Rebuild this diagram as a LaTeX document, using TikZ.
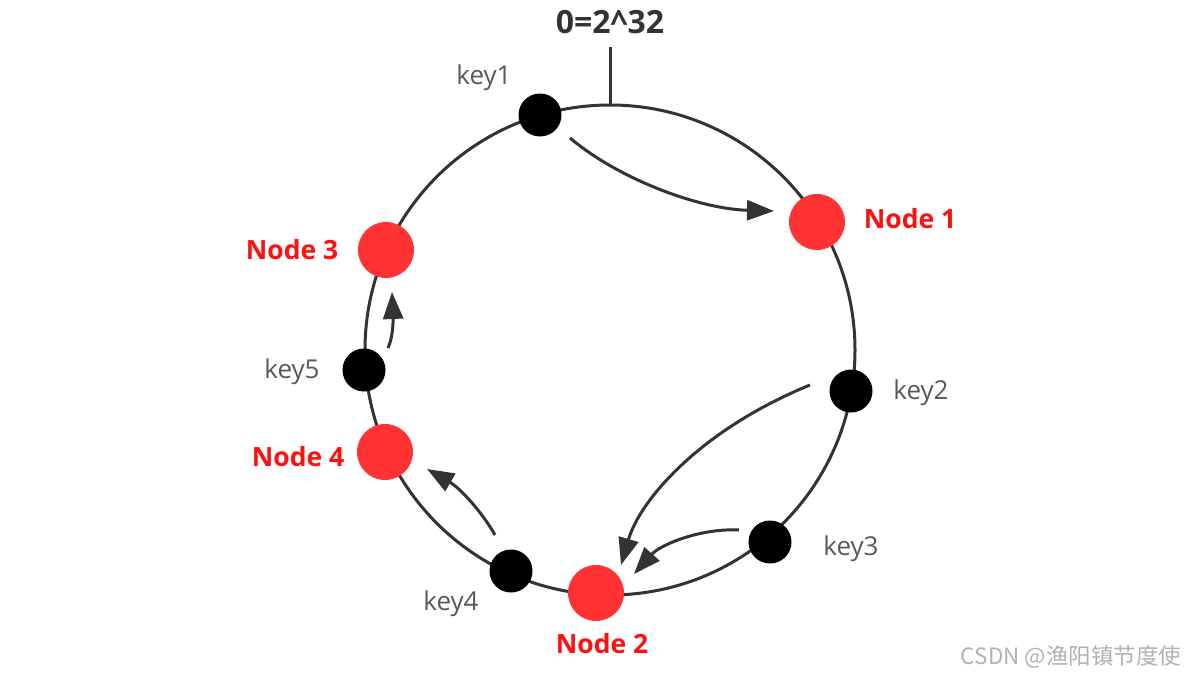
\documentclass[tikz,border=0pt]{standalone}
\usepackage{fontspec}
\setmainfont{Open Sans}
\newfontfamily\cjkfont{Noto Sans CJK SC}
\usetikzlibrary{arrows.meta,calc}
\definecolor{ringc}{HTML}{333333}
\definecolor{nodered}{HTML}{FF3333}
\definecolor{labred}{HTML}{FF1010}
\definecolor{keygray}{HTML}{595959}
\begin{document}
\begin{tikzpicture}[x=1pt,y=-1pt,
  keyc/.style={circle,fill=black,minimum size=43pt,inner sep=0pt},
  nodec/.style={circle,fill=nodered,minimum size=56pt,inner sep=0pt},
  keylab/.style={text=keygray,font=\fontsize{26}{30}\selectfont},
  nodelab/.style={text=labred,font=\bfseries\fontsize{26.5}{30}\selectfont},
  arr/.style={draw=ringc,line width=3pt,-{Triangle[length=27pt,width=20pt]}}
]
\useasboundingbox[fill=white] (0,0) rectangle (1184,677);
% ring
\node[circle,draw=ringc,line width=3pt,minimum size=490pt,inner sep=0pt] (ring) at (610,350) {};
\draw[ringc,line width=3pt] (ring.north) -- ++(0,-56) coordinate (tick);
\node[font=\bfseries\fontsize{32}{36}\selectfont,text=ringc] (zero) at (610,22) {0=2\textasciicircum 32};
% keys and nodes
\node[keyc] (key1) at (540,115) {};
\node[keyc] (key2) at (851,391) {};
\node[keyc] (key3) at (770,542) {};
\node[keyc] (key4) at (511,571) {};
\node[keyc] (key5) at (364,370) {};
\node[nodec] (node1) at (817,222) {};
\node[nodec] (node2) at (596,593) {};
\node[nodec] (node3) at (386,250) {};
\node[nodec] (node4) at (385,452) {};
% labels
\node[keylab] (lk1) at (484,78) {key1};
\node[keylab] (lk2) at (921,393) {key2};
\node[keylab] (lk3) at (851,549) {key3};
\node[keylab] (lk4) at (451,604) {key4};
\node[keylab] (lk5) at (292,372) {key5};
\node[nodelab] (ln1) at (910,219) {Node 1};
\node[nodelab] (ln2) at (602,644) {Node 2};
\node[nodelab] (ln3) at (292,250) {Node 3};
\node[nodelab] (ln4) at (298,457) {Node 4};
% arrows
\draw[arr] ($(key1)+(30,23)$) .. controls (620,180) and (700,209) .. ($(node1)+(-43,-11)$);
\draw[arr] ($(key2)+(-41,-6)$) .. controls (700,430) and (640,500) .. ($(node2)+(25,-28)$);
\draw[arr] ($(key3)+(-31,-12)$) .. controls (700,528) and (660,545) .. ($(node2)+(38,-19)$);
\draw[arr] ($(key4)+(-16,-36)$) .. controls (482,512) and (460,488) .. ($(node4)+(42,17)$);
\draw[arr] ($(key5)+(24,-22)$) .. controls (394,335) and (393,315) .. ($(node3)+(6,42)$);
% watermark
\node[text=black!30,font=\cjkfont\fontsize{22.5}{26}\selectfont] (wm) at (1071,657) {CSDN @渔阳镇节度使};
\end{tikzpicture}
\end{document}
